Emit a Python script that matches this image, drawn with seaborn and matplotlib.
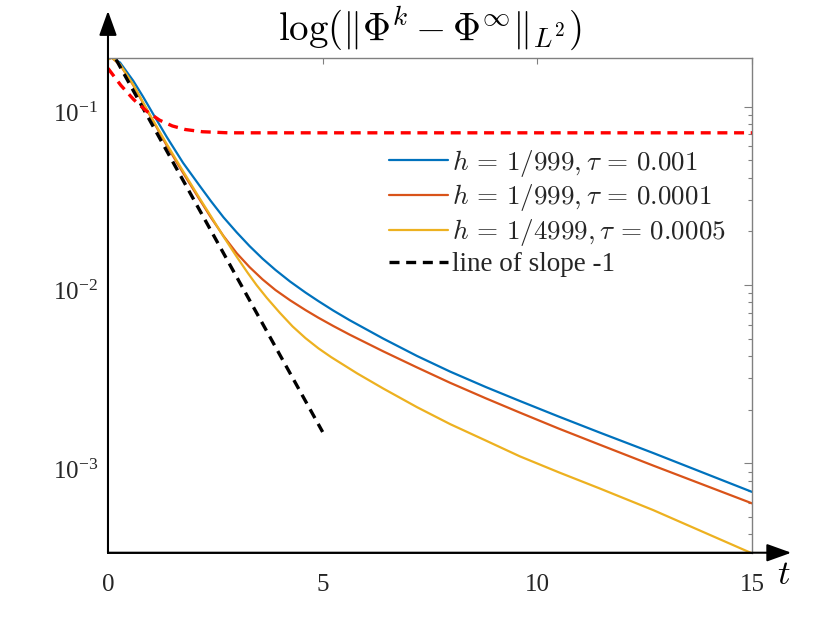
import numpy as np
import pandas as pd
import matplotlib
matplotlib.use("Agg")
import matplotlib.pyplot as plt
import matplotlib.transforms as mtrans
import seaborn as sns

# ---------------- data ----------------
t_blue = [0.0, 0.08, 0.28, 0.59, 0.82, 1.05, 1.37, 1.75, 2.14, 2.4, 2.69, 3.0, 3.3, 3.6,
          3.9, 4.24, 4.6, 4.9, 5.25, 5.63, 6.41, 7.2, 7.97, 8.8, 9.59, 10.5, 11.45, 12.7, 15.0]
v_blue = [0.1841, 0.1888, 0.1770, 0.1396, 0.1135, 0.0912, 0.0676, 0.0484, 0.0359, 0.02951,
          0.02399, 0.01972, 0.01652, 0.01406, 0.01216, 0.01047, 0.00908, 0.00813, 0.00719,
          0.00635, 0.00501, 0.00400, 0.00327, 0.00268, 0.00224, 0.00183, 0.00149,
          0.001143, 0.000692]

t_red = [0.0, 0.08, 0.28, 0.59, 0.98, 1.37, 1.75, 2.1, 2.4, 2.69, 3.0, 3.3, 3.6, 3.9,
         4.24, 4.6, 4.9, 5.25, 5.63, 6.41, 7.2, 7.97, 8.8, 9.59, 10.5, 11.45, 12.7, 15.0]
v_red = [0.1841, 0.1888, 0.1722, 0.1318, 0.0891, 0.0605, 0.0425, 0.0311, 0.02388, 0.01884,
         0.01507, 0.01259, 0.01076, 0.00938, 0.00822, 0.00724, 0.00656, 0.00589, 0.00527,
         0.00425, 0.00345, 0.00283, 0.002317, 0.001928, 0.001567, 0.001274, 0.000972,
         0.000597]

t_yel = [0.0, 0.08, 0.28, 0.59, 0.98, 1.37, 1.75, 2.1, 2.4, 2.69, 3.0, 3.25, 3.46, 3.7,
         4.0, 4.3, 4.6, 4.9, 5.2, 5.8, 6.41, 7.2, 7.97, 8.8, 9.59, 10.5, 11.45, 12.7, 15.0]
v_yel = [0.1841, 0.1888, 0.1730, 0.1327, 0.0899, 0.0617, 0.04345, 0.03162, 0.02427,
         0.01871, 0.01439, 0.01175, 0.01000, 0.00847, 0.00700, 0.00586, 0.00504, 0.00442,
         0.00394, 0.00320, 0.00263, 0.002065, 0.00166, 0.001343, 0.001096, 0.000891,
         0.000724, 0.000547, 0.000313]

t_rdash = [0.0, 0.3, 0.6, 0.9, 1.2, 1.5, 1.8, 2.2, 2.8, 15.0]
v_rdash = [0.1641, 0.1318, 0.1096, 0.0944, 0.0841, 0.0780, 0.0745, 0.0724, 0.0714, 0.0714]

t_slope = [0.0, 5.0]
v_slope = [0.222, 0.0015]

labels = [r"$h\,=\,1/999, \tau\,=\,0.001$",
          r"$h\,=\,1/999, \tau\,=\,0.0001$",
          r"$h\,=\,1/4999, \tau\,=\,0.0005$",
          "line of slope -1"]
title_txt = r"$\log(\|\Phi^k-\Phi^\infty\|_{L^2})$"
x_ticks = [0, 5, 10, 15]

# ---------------- style ----------------
sns.set_style("white")
plt.rcParams["font.family"] = ["Liberation Serif", "DejaVu Serif"]
plt.rcParams["mathtext.fontset"] = "cm"

c_blue = "#0072BD"
c_orange = "#D95319"
c_yellow = "#EDB120"
tick_col = "#262626"
box_col = "#808080"

fig = plt.figure(figsize=(8.3, 6.23), dpi=100)
ax = fig.add_axes([0.1301, 0.1128, 0.7759, 0.7949])
ax.set_yscale("log")

df_b = pd.DataFrame({"t": t_blue, "v": v_blue})
df_r = pd.DataFrame({"t": t_red, "v": v_red})
df_y = pd.DataFrame({"t": t_yel, "v": v_yel})
df_rd = pd.DataFrame({"t": t_rdash, "v": v_rdash})
df_s = pd.DataFrame({"t": t_slope, "v": v_slope})

sns.lineplot(data=df_b, x="t", y="v", ax=ax, color=c_blue, lw=1.6, label=labels[0])
sns.lineplot(data=df_r, x="t", y="v", ax=ax, color=c_orange, lw=1.6, label=labels[1])
sns.lineplot(data=df_y, x="t", y="v", ax=ax, color=c_yellow, lw=1.6, label=labels[2])
sns.lineplot(data=df_s, x="t", y="v", ax=ax, color="black", lw=2.4, label=labels[3])
ax.lines[-1].set_dashes([3, 2])
sns.lineplot(data=df_rd, x="t", y="v", ax=ax, color="#FF0000", lw=2.4, label="_nolegend_")
ax.lines[-1].set_dashes([3, 2])

ax.set_xlim(0, 15)
ax.set_ylim(3.155e-4, 0.1888)
ax.set_xticks(x_ticks)
ax.set_xticklabels([str(v) for v in x_ticks])
ax.set_xlabel("")
ax.set_ylabel("")

# spines
for s in ["top", "right"]:
    ax.spines[s].set_color(box_col)
    ax.spines[s].set_linewidth(1.0)
for s in ["left", "bottom"]:
    ax.spines[s].set_color("black")
    ax.spines[s].set_linewidth(1.2)

ax.tick_params(axis="both", which="both", direction="in", top=True, right=True,
               colors=box_col, labelcolor=tick_col, labelsize=18, width=0.8)
ax.tick_params(axis="x", which="major", length=4.5, pad=15)
ax.tick_params(axis="y", which="major", length=5.5, pad=7)
ax.tick_params(axis="y", which="minor", length=3)
ax.tick_params(axis="x", which="minor", length=0)

# shift y tick labels slightly down (MATLAB-like placement)
offset = mtrans.ScaledTranslation(0, -0.055, fig.dpi_scale_trans)
for lab in ax.get_yticklabels():
    lab.set_transform(lab.get_transform() + offset)

# arrows along the axes
arrow_kw = dict(arrowstyle="-|>,head_length=1.0,head_width=0.36", color="black",
                lw=1.5, mutation_scale=15, shrinkA=0, shrinkB=0)
ax.annotate("", xy=(0, 1.094), xytext=(0, 0), xycoords="axes fraction",
            textcoords="axes fraction", arrowprops=arrow_kw, annotation_clip=False)
ax.annotate("", xy=(1.061, 0), xytext=(0, 0), xycoords="axes fraction",
            textcoords="axes fraction", arrowprops=arrow_kw, annotation_clip=False)

ax.text(1.050, -0.045, r"$t$", transform=ax.transAxes, fontsize=25,
        ha="center", va="center", color="black")

ax.set_title(title_txt, fontsize=28, pad=13, color="black")

leg = ax.legend(loc="upper left", bbox_to_anchor=(0.437, 0.818), frameon=False,
                fontsize=19.5, handlelength=2.15, handletextpad=0.15,
                labelspacing=0.14, borderaxespad=0, borderpad=0)

fig.savefig("out.png", dpi=100)
